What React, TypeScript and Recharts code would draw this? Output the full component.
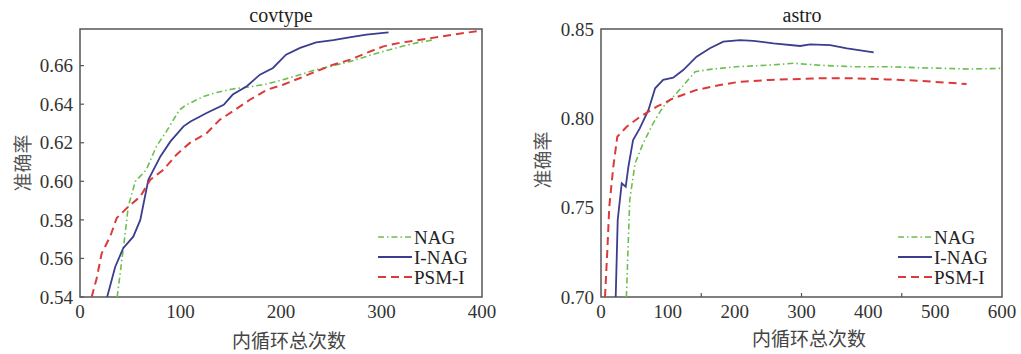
import { LineChart, Line, XAxis, YAxis, ReferenceArea, Legend } from 'recharts';

const SERIF = '"Liberation Serif", "Times New Roman", serif';
const CJK = '"Noto Sans CJK SC", sans-serif';

const NAG_COLOR = '#6cbf4e';
const INAG_COLOR = '#3b3d8f';
const PSM_COLOR = '#dc3a3a';

// ---- covtype ----
const covNagX = [37, 45, 48, 55, 66, 76, 86, 99, 106, 123, 136, 152, 169, 186, 202, 219, 235, 252, 269, 285, 302, 318, 335, 353];
const covNagY = [0.54, 0.5731, 0.5869, 0.5999, 0.606, 0.6181, 0.6259, 0.6371, 0.6397, 0.644, 0.6461, 0.6479, 0.649, 0.6505, 0.6527, 0.6553, 0.6579, 0.66, 0.6622, 0.6648, 0.6674, 0.6697, 0.6718, 0.6735];
const covInagX = [27, 35, 43, 53, 60, 68, 80, 90, 103, 110, 126, 143, 152, 166, 179, 192, 205, 219, 235, 252, 268, 285, 307];
const covInagY = [0.54, 0.5556, 0.5653, 0.5713, 0.58, 0.6008, 0.6129, 0.6207, 0.6285, 0.631, 0.6354, 0.6397, 0.645, 0.6493, 0.6553, 0.6588, 0.6657, 0.6692, 0.6721, 0.6732, 0.6747, 0.6761, 0.6773];
const covPsmX = [11.6, 16.6, 21.6, 30, 36.5, 46.5, 60, 70, 83, 96, 109, 126, 139, 152, 169, 186, 202, 219, 235, 252, 269, 285, 302, 318, 351, 371, 400];
const covPsmY = [0.54, 0.5497, 0.5627, 0.5713, 0.5809, 0.5861, 0.5921, 0.6008, 0.606, 0.6138, 0.6198, 0.625, 0.6319, 0.6363, 0.6423, 0.6475, 0.6501, 0.6536, 0.657, 0.6605, 0.6631, 0.6666, 0.67, 0.6718, 0.6744, 0.6761, 0.6782];
const covXTicks = [0, 100, 200, 300, 400];
const covYTicks = [0.54, 0.56, 0.58, 0.6, 0.62, 0.64, 0.66];

// ---- astro ----
const astNagX = [38, 43, 51, 63, 78, 93, 113, 141, 163, 203, 253, 288, 328, 378, 428, 477, 552, 600];
const astNagY = [0.7, 0.7543, 0.7748, 0.786, 0.7972, 0.8065, 0.814, 0.8261, 0.8274, 0.8289, 0.8298, 0.8308, 0.8297, 0.8289, 0.8289, 0.8283, 0.8276, 0.828];
const astInagX = [22, 25, 31, 37, 41, 48, 58, 71, 81, 93, 108, 123, 143, 163, 183, 208, 228, 258, 298, 313, 343, 368, 408];
const astInagY = [0.7, 0.7431, 0.7636, 0.7617, 0.7729, 0.7879, 0.7944, 0.8047, 0.8168, 0.8215, 0.8228, 0.827, 0.8345, 0.8392, 0.8429, 0.8438, 0.8434, 0.842, 0.8405, 0.8414, 0.841, 0.8392, 0.8369];
const astPsmX = [6, 9.5, 12.4, 18.4, 24.4, 38.4, 58.4, 83.3, 108.2, 143, 178, 208, 253, 328, 378, 428, 477, 547];
const astPsmY = [0.7, 0.7263, 0.7505, 0.7729, 0.7897, 0.7953, 0.8009, 0.8065, 0.8112, 0.8159, 0.8187, 0.8205, 0.8215, 0.8224, 0.8224, 0.8218, 0.821, 0.8192];
const astXTicks = [0, 100, 200, 300, 400, 500, 600];
const astXMarks = [150, 300, 450];
const astYTicks = [0.7, 0.75, 0.8, 0.85];

const zip = (xs: number[], ys: number[]) => xs.map((x, i) => ({ x, y: ys[i] }));

const legendItems = [
    { name: 'NAG', color: NAG_COLOR, dash: '6 3 1.5 3', width: 1.6 },
    { name: 'I-NAG', color: INAG_COLOR, dash: undefined, width: 1.8 },
    { name: 'PSM-I', color: PSM_COLOR, dash: '8 5', width: 2 },
];

// legend drawn inside the plot, bottom right
const LegendBox = () => (
    <svg width={130} height={64}>
        {legendItems.map((it, i) => (
            <g key={it.name}>
                <line x1={3} x2={37} y1={11 + i * 20} y2={11 + i * 20} stroke={it.color} strokeWidth={it.width} strokeDasharray={it.dash} />
                <text x={39} y={11 + i * 20} dy="0.35em" fontFamily={SERIF} fontSize={19} fill="#222">{it.name}</text>
            </g>
        ))}
    </svg>
);

const makeXTick = (labels: number[], marks: number[]) => (p: any) => {
    const v = p.payload.value;
    return (
        <g>
            {marks.includes(v) && <line x1={p.x} x2={p.x} y1={p.y} y2={p.y - 4} stroke="#555" strokeWidth={1.2} />}
            {labels.includes(v) && (
                <text x={p.x} y={p.y + 21} textAnchor="middle" fontFamily={SERIF} fontSize={19} fill="#333">{v}</text>
            )}
        </g>
    );
};

const makeYTick = (marks: boolean) => (p: any) => (
    <g>
        {marks && <line x1={p.x} x2={p.x + 4} y1={p.y} y2={p.y} stroke="#555" strokeWidth={1.2} />}
        <text x={p.x - 7} y={p.y} dy="0.35em" textAnchor="end" fontFamily={SERIF} fontSize={19} fill="#333">
            {p.payload.value.toFixed(2)}
        </text>
    </g>
);

type PanelProps = {
    left: number;
    width: number;
    yAxisWidth: number;
    marginRight: number;
    xMax: number;
    yDomain: [number, number];
    xTicks: number[];
    xMarks: number[];
    yTicks: number[];
    yMarks: boolean;
    nag: { x: number; y: number }[];
    inag: { x: number; y: number }[];
    psm: { x: number; y: number }[];
    legendLeft: number;
};

const Panel = (props: PanelProps) => (
    <div style={{ position: 'absolute', left: props.left, top: 0 }}>
        <LineChart width={props.width} height={354} margin={{ top: 29, right: props.marginRight, bottom: 0, left: 0 }}>
            <XAxis
                dataKey="x"
                type="number"
                domain={[0, props.xMax]}
                allowDataOverflow
                ticks={[...props.xTicks, ...props.xMarks.filter(m => !props.xTicks.includes(m))].sort((a, b) => a - b)}
                interval={0}
                height={57}
                axisLine={false}
                tickLine={false}
                tickSize={0}
                tickMargin={0}
                tick={makeXTick(props.xTicks, props.xMarks)}
            />
            <YAxis
                type="number"
                domain={props.yDomain}
                allowDataOverflow
                ticks={props.yTicks}
                interval={0}
                width={props.yAxisWidth}
                axisLine={false}
                tickLine={false}
                tickSize={0}
                tickMargin={0}
                tick={makeYTick(props.yMarks)}
            />
            <ReferenceArea x1={0} x2={props.xMax} y1={props.yDomain[0]} y2={props.yDomain[1]} fill="none" stroke="#555" strokeWidth={1.5} ifOverflow="visible" />
            <Line data={props.nag} dataKey="y" type="linear" stroke={NAG_COLOR} strokeWidth={1.6} strokeDasharray="6 3 1.5 3" dot={false} activeDot={false} isAnimationActive={false} />
            <Line data={props.inag} dataKey="y" type="linear" stroke={INAG_COLOR} strokeWidth={1.8} dot={false} activeDot={false} isAnimationActive={false} />
            <Line data={props.psm} dataKey="y" type="linear" stroke={PSM_COLOR} strokeWidth={2} strokeDasharray="8 5" dot={false} activeDot={false} isAnimationActive={false} />
            <Legend
                layout="vertical"
                align="center"
                verticalAlign="middle"
                content={() => <LegendBox />}
                wrapperStyle={{ position: 'absolute', left: props.legendLeft, top: 226, width: 130, height: 64 }}
            />
        </LineChart>
    </div>
);

const textBase = { position: 'absolute' as const, textAlign: 'center' as const, whiteSpace: 'nowrap' as const };

export default function App() {
    return (
        <div style={{ position: 'absolute', left: 0, top: 0, width: 1021, height: 354, overflow: 'hidden', background: '#fff' }}>
            <Panel
                left={0}
                width={510}
                yAxisWidth={80}
                marginRight={28}
                xMax={400}
                yDomain={[0.54, 0.679]}
                xTicks={covXTicks}
                xMarks={[]}
                yTicks={covYTicks}
                yMarks={true}
                nag={zip(covNagX, covNagY)}
                inag={zip(covInagX, covInagY)}
                psm={zip(covPsmX, covPsmY)}
                legendLeft={375}
            />
            <Panel
                left={510}
                width={511}
                yAxisWidth={91}
                marginRight={19}
                xMax={600}
                yDomain={[0.7, 0.85]}
                xTicks={astXTicks}
                xMarks={astXMarks}
                yTicks={astYTicks}
                yMarks={false}
                nag={zip(astNagX, astNagY)}
                inag={zip(astInagX, astInagY)}
                psm={zip(astPsmX, astPsmY)}
                legendLeft={385}
            />
            {/* titles */}
            <div style={{ ...textBase, left: 181, top: 5, width: 200, lineHeight: '20px', fontFamily: SERIF, fontSize: 20, color: '#222' }}>covtype</div>
            <div style={{ ...textBase, left: 702, top: 5, width: 200, lineHeight: '20px', fontFamily: SERIF, fontSize: 20, color: '#222' }}>astro</div>
            {/* x labels */}
            <div style={{ ...textBase, left: 189, top: 330, width: 200, lineHeight: '20px', fontFamily: CJK, fontSize: 19, color: '#444' }}>内循环总次数</div>
            <div style={{ ...textBase, left: 709, top: 328, width: 200, lineHeight: '20px', fontFamily: CJK, fontSize: 19, color: '#444' }}>内循环总次数</div>
            {/* y labels */}
            <div style={{ ...textBase, left: -28, top: 153, width: 100, lineHeight: '20px', fontFamily: CJK, fontSize: 19, color: '#555', transform: 'rotate(-90deg)' }}>准确率</div>
            <div style={{ ...textBase, left: 492, top: 150, width: 100, lineHeight: '20px', fontFamily: CJK, fontSize: 19, color: '#555', transform: 'rotate(-90deg)' }}>准确率</div>
        </div>
    );
}
